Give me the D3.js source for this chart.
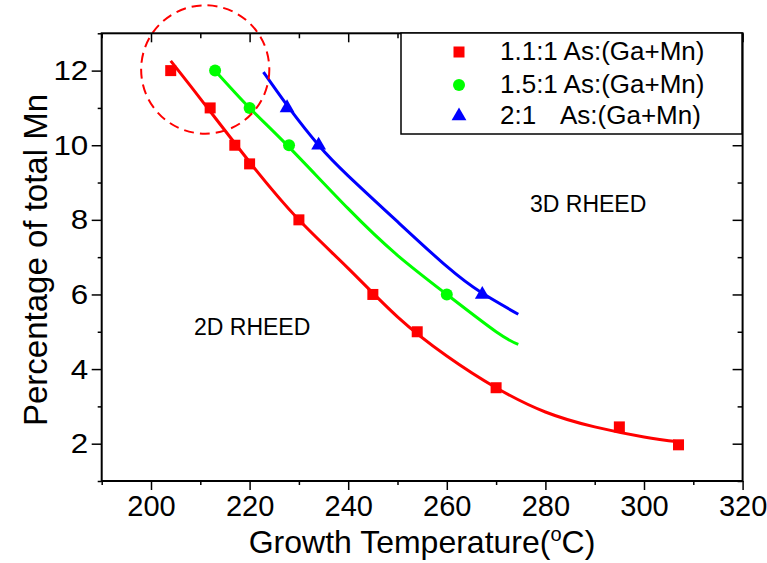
<!DOCTYPE html>
<html>
<head>
<meta charset="utf-8">
<script src="https://cdn.jsdelivr.net/npm/d3@7"></script>
<style>
  body { margin: 0; background: #fff; }
  text { font-family: "Liberation Sans", Arial, sans-serif; fill: #000; }
</style>
</head>
<body>
<div id="chart"></div>
<script>
// measured points
var redT = [204, 212, 217, 220, 230, 245, 254, 270, 295, 307];
var redV = [12, 11, 10, 9.5, 8, 6, 5, 3.5, 2.45, 1.97];
var greenT = [213, 220, 228, 260];
var greenV = [12, 11, 10, 6];
var blueT = [227.6, 234, 267.2];
var blueV = [11, 10, 6];

// fitted curves
var redFitT = [204, 210, 220, 230, 240, 250, 260, 270, 280, 290, 300, 307];
var redFitV = [12.26, 11.25, 9.55, 8.0, 6.7, 5.4, 4.35, 3.5, 2.85, 2.45, 2.18, 2.05];
var greenFitT = [213, 220, 228, 240, 250, 260, 270, 274.5];
var greenFitV = [12.0, 11.0, 9.95, 8.3, 7.05, 6.0, 5.0, 4.66];
var blueFitT = [222.8, 228, 234, 240, 250, 260, 267, 274.5];
var blueFitV = [11.96, 11.0, 10.0, 9.18, 7.95, 6.75, 6.05, 5.47];

var xTicks = [200, 220, 240, 260, 280, 300, 320];
var xMinor = [190, 210, 230, 250, 270, 290, 310];
var yTicks = [2, 4, 6, 8, 10, 12];
var yMinor = [1, 3, 5, 7, 9, 11, 13];

var legendLabels = ["1.1:1 As:(Ga+Mn)", "1.5:1 As:(Ga+Mn)", "2:1"];

var svg = d3.select("#chart")
    .append("svg")
    .attr("width", 767)
    .attr("height", 563);

var x = d3.scaleLinear().domain([190, 320]).range([101.7, 742.6]);
var y = d3.scaleLinear().domain([1, 13]).range([481, 33.3]);

function zip(a, b) { return a.map(function (d, i) { return {t: d, v: b[i]}; }); }

var line = d3.line()
    .x(d => x(d.t))
    .y(d => y(d.v))
    .curve(d3.curveNatural);

// fit lines
[[redFitT, redFitV, "#ff0000"], [greenFitT, greenFitV, "#00ff00"], [blueFitT, blueFitV, "#0000ff"]]
    .forEach(function (s) {
        svg.append("path")
            .datum(zip(s[0], s[1]))
            .attr("fill", "none")
            .attr("stroke", s[2])
            .attr("stroke-width", 3)
            .attr("d", line);
    });

// markers
svg.append("g").selectAll("rect")
    .data(zip(redT, redV))
    .join("rect")
    .attr("x", d => x(d.t) - 5.5)
    .attr("y", d => y(d.v) - 5.5)
    .attr("width", 11)
    .attr("height", 11)
    .attr("fill", "#ff0000");

svg.append("g").selectAll("circle")
    .data(zip(greenT, greenV))
    .join("circle")
    .attr("cx", d => x(d.t))
    .attr("cy", d => y(d.v))
    .attr("r", 6)
    .attr("fill", "#00ff00");

var tri = d3.symbol().type(d3.symbolTriangle).size(95);
svg.append("g").selectAll("path")
    .data(zip(blueT, blueV))
    .join("path")
    .attr("transform", d => "translate(" + x(d.t) + "," + y(d.v) + ")")
    .attr("d", tri)
    .attr("fill", "#0000ff");

// dashed circle round the top-left points
svg.append("ellipse")
    .attr("cx", x(211))
    .attr("cy", y(12.03))
    .attr("rx", x(224) - x(211))
    .attr("ry", y(12.03) - y(13.75))
    .attr("fill", "none")
    .attr("stroke", "#ff0000")
    .attr("stroke-width", 2)
    .attr("stroke-dasharray", "10,6");

// region labels
svg.append("text").attr("x", 530).attr("y", 212).style("font-size", "23px").text("3D RHEED");
svg.append("text").attr("x", 194).attr("y", 335).style("font-size", "23px").text("2D RHEED");

// axes
var xAxis = d3.axisBottom(x).tickValues(xTicks).tickSize(9).tickPadding(5);
var xAxisMinor = d3.axisBottom(x).tickValues(xMinor).tickSize(4).tickFormat("");
var yAxis = d3.axisLeft(y).tickValues(yTicks).tickSize(10).tickPadding(2);
var yAxisMinor = d3.axisLeft(y).tickValues(yMinor).tickSize(4).tickFormat("");

svg.append("g").attr("class", "axis xa").attr("transform", "translate(0,481)").call(xAxis);
svg.append("g").attr("class", "axis").attr("transform", "translate(0,481)").call(xAxisMinor);
svg.append("g").attr("class", "axis ya").attr("transform", "translate(101.7,0)").call(yAxis);
svg.append("g").attr("class", "axis").attr("transform", "translate(101.7,0)").call(yAxisMinor);

// mirrored, inward ticks
svg.append("g").attr("class", "axis").attr("transform", "translate(0,33.3)")
    .call(d3.axisBottom(x).tickValues(xTicks).tickSize(9).tickFormat(""));
svg.append("g").attr("class", "axis").attr("transform", "translate(0,33.3)")
    .call(d3.axisBottom(x).tickValues(xMinor).tickSize(5).tickFormat(""));
svg.append("g").attr("class", "axis").attr("transform", "translate(742.6,0)")
    .call(d3.axisLeft(y).tickValues(yTicks).tickSize(10).tickFormat(""));
svg.append("g").attr("class", "axis").attr("transform", "translate(742.6,0)")
    .call(d3.axisLeft(y).tickValues(yMinor).tickSize(5).tickFormat(""));

svg.selectAll(".axis .domain").remove();
svg.selectAll(".axis line").attr("stroke", "#000").attr("stroke-width", 1.5);
svg.selectAll(".axis text").attr("fill", "#000")
    .style("font-family", "'Liberation Sans', Arial, sans-serif");
svg.selectAll(".xa text").style("font-size", "29px");
// y tick numbers are a bit wider in the original
svg.selectAll(".ya text").style("font-size", "28px").attr("transform", "scale(1.12,1)");

// frame
svg.append("rect")
    .attr("x", 101.7).attr("y", 33.3)
    .attr("width", 742.6 - 101.7).attr("height", 481 - 33.3)
    .attr("fill", "none").attr("stroke", "#000").attr("stroke-width", 2);

// axis titles
var xt = svg.append("text")
    .attr("x", 422).attr("y", 553)
    .attr("text-anchor", "middle")
    .style("font-size", "32px");
xt.append("tspan").text("Growth Temperature(");
xt.append("tspan").attr("dy", -12).style("font-size", "20px").text("o");
xt.append("tspan").attr("dy", 12).text("C)");

svg.append("text")
    .attr("transform", "translate(47,260) rotate(-90)")
    .attr("text-anchor", "middle")
    .style("font-size", "33px")
    .text("Percentage of total Mn");

// legend
var lg = svg.append("g");
lg.append("rect")
    .attr("x", 401).attr("y", 33).attr("width", 341).attr("height", 101)
    .attr("fill", "#fff").attr("stroke", "#000").attr("stroke-width", 1.5);

var rowY = [52, 85, 116];
lg.append("rect").attr("x", 459 - 5.5).attr("y", rowY[0] - 5.5).attr("width", 11).attr("height", 11).attr("fill", "#ff0000");
lg.append("circle").attr("cx", 459).attr("cy", rowY[1]).attr("r", 6).attr("fill", "#00ff00");
lg.append("path").attr("transform", "translate(459," + rowY[2] + ")").attr("d", tri).attr("fill", "#0000ff");

lg.selectAll("text.lab")
    .data(legendLabels)
    .join("text")
    .attr("class", "lab")
    .attr("x", 500)
    .attr("y", (d, i) => rowY[i] + 8)
    .style("font-size", "26px")
    .text(d => d);
lg.append("text").attr("x", 560).attr("y", rowY[2] + 8).style("font-size", "26px").text("As:(Ga+Mn)");
</script>
</body>
</html>
